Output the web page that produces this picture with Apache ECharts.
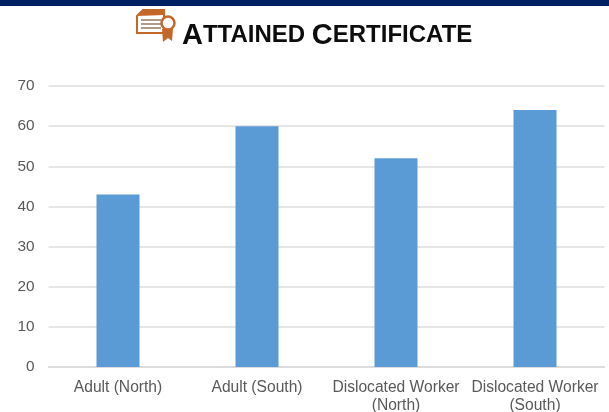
<!DOCTYPE html>
<html>
<head>
<meta charset="utf-8">
<style>
html, body { margin: 0; padding: 0; background: #fff; }
#main { width: 609px; height: 412px; }
</style>
<script src="https://cdn.jsdelivr.net/npm/echarts@6/dist/echarts.min.js"></script>
</head>
<body>
<div id="main"></div>
<script>
var categories = ['Adult (North)', 'Adult (South)', 'Dislocated Worker\n(North)', 'Dislocated Worker\n(South)'];
var values = [43, 60, 52, 64];

var chart = echarts.init(document.getElementById('main'));
var iconColor = '#c4682a';

chart.setOption({
    animation: false,
    textStyle: { fontFamily: 'Liberation Sans' },
    title: {
        left: 177,
        top: 16,
        text: '{big|A}{small|TTAINED }{big|C}{small|ERTIFICATE}',
        textStyle: {
            rich: {
                big: { fontSize: 29, fontWeight: 'bold', color: '#0d0d0d', fontFamily: 'Liberation Sans' },
                small: { fontSize: 24, fontWeight: 'bold', color: '#0d0d0d', fontFamily: 'Liberation Sans' }
            }
        }
    },
    grid: { left: 48.5, right: 4.5, top: 86, bottom: 45, outerBoundsMode: 'none' },
    xAxis: {
        type: 'category',
        data: categories,
        axisTick: { show: false },
        axisLine: { lineStyle: { color: '#d9d9d9', width: 1.5 } },
        axisLabel: { color: '#595959', fontSize: 15.6, margin: 12, lineHeight: 17.5, interval: 0 }
    },
    yAxis: {
        type: 'value',
        min: 0,
        max: 70,
        interval: 10,
        axisLine: { show: false },
        axisTick: { show: false },
        axisLabel: { color: '#595959', fontSize: 15.4, margin: 14, padding: [4, 0, 0, 0] },
        splitLine: { lineStyle: { color: '#dedede', width: 1.5 } }
    },
    series: [{
        type: 'bar',
        data: values,
        barWidth: 43,
        itemStyle: { color: '#5b9bd5' }
    }],
    graphic: [
        // top band
        { type: 'rect', shape: { x: 0, y: 0, width: 609, height: 6 }, style: { fill: '#002060' } },
        // certificate icon
        { type: 'polygon', shape: { points: [[143, 10], [164, 10], [164, 33], [137, 33], [137, 16]] },
          style: { fill: '#fff', stroke: iconColor, lineWidth: 2 } },
        { type: 'polygon', shape: { points: [[143, 10], [164, 10], [164, 15], [137, 16]] }, style: { fill: iconColor } },
        { type: 'rect', shape: { x: 141, y: 19, width: 20, height: 2 }, style: { fill: '#b09a88' } },
        { type: 'rect', shape: { x: 141, y: 23, width: 20, height: 2 }, style: { fill: '#b09a88' } },
        { type: 'rect', shape: { x: 141, y: 27, width: 20, height: 2 }, style: { fill: '#b09a88' } },
        { type: 'polygon', shape: { points: [[162, 29], [173, 29], [172, 41], [168, 38], [163, 42]] },
          style: { fill: iconColor } },
        { type: 'circle', shape: { cx: 168, cy: 23, r: 6.5 }, style: { fill: '#fff', stroke: iconColor, lineWidth: 2.5 } }
    ]
});
</script>
</body>
</html>
